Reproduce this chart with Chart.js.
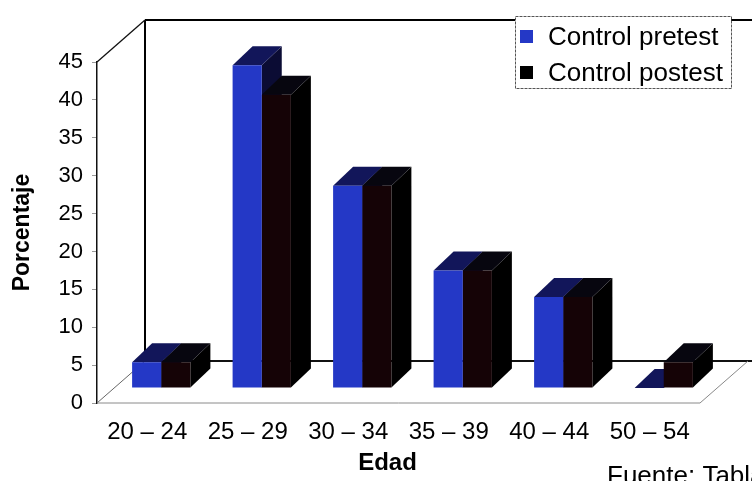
<!DOCTYPE html>
<html>
<head>
<meta charset="utf-8">
<script src="https://cdn.jsdelivr.net/npm/chart.js@4.4.1/dist/chart.umd.min.js"></script>
<style>
  html, body { margin: 0; padding: 0; background: #ffffff; }
  #wrap { width: 752px; height: 481px; }
</style>
</head>
<body>
<div id="wrap"><canvas id="c" width="752" height="481"></canvas></div>
<script>
// Age groups and percentages for the control group
const categories = ['20 – 24', '25 – 29', '30 – 34', '35 – 39', '40 – 44', '50 – 54'];
const pretest = [3.4, 42.6, 26.7, 15.5, 12.0, 0];
const postest = [3.4, 38.7, 26.7, 15.5, 12.0, 3.4];
const seriesNames = ['Control pretest', 'Control postest'];
const yMin = 0, yMax = 45, yStep = 5;
const xTitle = 'Edad';
const yTitle = 'Porcentaje';
const sourceNote = 'Fuente: Tabla 1';

// colours of each box: front, top, side, legend swatch
const faces = [
  { front: '#2438c6', top: '#12165a', side: '#0b0c34', swatch: '#2438c6' },
  { front: '#150306', top: '#07060f', side: '#000000', swatch: '#000000' }
];

// oblique projection used for the pseudo-3D look
const WALL = { x: 48, y: -42 };   // depth of floor / side wall
const STAND = { x: 14, y: -15 };  // where the boxes stand on the floor
const DEPTH = { x: 20, y: -19 };  // depth of each box

const FONT = "'Liberation Sans', Arial, sans-serif";

function seg(ctx, x1, y1, x2, y2, color, w) {
  ctx.beginPath();
  ctx.strokeStyle = color;
  ctx.lineWidth = w;
  ctx.moveTo(x1, y1);
  ctx.lineTo(x2, y2);
  ctx.stroke();
}

function poly(ctx, pts, color) {
  ctx.beginPath();
  ctx.moveTo(pts[0][0], pts[0][1]);
  for (let i = 1; i < pts.length; i++) ctx.lineTo(pts[i][0], pts[i][1]);
  ctx.closePath();
  ctx.fillStyle = color;
  ctx.fill();
}

const box3d = {
  id: 'box3d',
  beforeDatasetsDraw(chart) {
    const { ctx, chartArea: a, scales: { y } } = chart;
    const T = y.getPixelForValue(yMax), B = y.getPixelForValue(yMin);
    const L = a.left, R = a.right;
    ctx.save();
    // back wall, floor and side wall edges
    seg(ctx, L + WALL.x, T + WALL.y, L + WALL.x, B + WALL.y, '#000', 2);
    seg(ctx, L + WALL.x, T + WALL.y, chart.width, T + WALL.y, '#000', 2);
    seg(ctx, L + WALL.x, B + WALL.y, chart.width, B + WALL.y, '#111', 2);
    seg(ctx, L, T, L + WALL.x, T + WALL.y, '#111', 1.3);
    seg(ctx, L, B, L + WALL.x, B + WALL.y, '#666', 1);
    seg(ctx, R, B, R + WALL.x, B + WALL.y, '#888', 1);
    seg(ctx, L, B, R, B, '#8a8a8a', 1);

    // top and side faces of every box; the front faces follow from Chart.js
    ctx.translate(STAND.x, STAND.y);
    const metas = chart.data.datasets.map((d, i) => chart.getDatasetMeta(i));
    for (let k = 0; k < categories.length; k++) {
      metas.forEach((meta, i) => {
        const el = meta.data[k];
        const p = el.getProps(['x', 'y', 'base', 'width'], true);
        const l = p.x - p.width / 2, r = p.x + p.width / 2;
        const t = Math.min(p.y, p.base), b = p.base;
        const c = faces[i];
        poly(ctx, [[r, t], [r + DEPTH.x, t + DEPTH.y], [r + DEPTH.x, b + DEPTH.y], [r, b]], c.side);
        poly(ctx, [[l, t], [r, t], [r + DEPTH.x, t + DEPTH.y], [l + DEPTH.x, t + DEPTH.y]], c.top);
      });
    }
  },
  afterDatasetsDraw(chart) {
    chart.ctx.restore();
  },
  afterDraw(chart) {
    const ctx = chart.ctx;
    const x = chart.scales.x;
    ctx.save();
    // axis title under the categories
    ctx.fillStyle = '#000';
    ctx.font = 'bold 24px ' + FONT;
    ctx.textAlign = 'center';
    ctx.textBaseline = 'alphabetic';
    ctx.fillText(xTitle, (x.left + x.right) / 2 - 11, 470);
    // source note
    ctx.font = '26px ' + FONT;
    ctx.textAlign = 'left';
    ctx.fillText(sourceNote, 607, 484);

    // legend box
    ctx.fillStyle = '#fff';
    ctx.fillRect(515, 16, 216, 72);
    ctx.strokeStyle = '#555';
    ctx.lineWidth = 1;
    ctx.setLineDash([3, 1]);
    ctx.strokeRect(515.5, 16.5, 216, 72);
    ctx.setLineDash([]);
    ctx.font = '26px ' + FONT;
    ctx.textBaseline = 'middle';
    seriesNames.forEach((name, i) => {
      const cy = 37 + i * 36;
      ctx.fillStyle = faces[i].swatch;
      ctx.fillRect(520, cy - 7, 13, 13);
      ctx.fillStyle = '#000';
      ctx.fillText(name, 548, cy + 1);
    });
    ctx.restore();
  }
};

new Chart(document.getElementById('c'), {
  type: 'bar',
  data: {
    labels: categories,
    datasets: [
      { label: seriesNames[0], data: pretest, backgroundColor: faces[0].front, borderWidth: 0, clip: false },
      { label: seriesNames[1], data: postest, backgroundColor: faces[1].front, borderWidth: 0, clip: false }
    ]
  },
  options: {
    responsive: false,
    animation: false,
    devicePixelRatio: 1,
    layout: { padding: { left: 0, right: 52, top: 62, bottom: 0 } },
    datasets: { bar: { categoryPercentage: 0.58, barPercentage: 1.0 } },
    plugins: { legend: { display: false }, tooltip: { enabled: false } },
    scales: {
      x: {
        grid: { display: false, drawTicks: false },
        border: { display: false },
        ticks: { color: '#000', font: { family: FONT, size: 24 }, padding: 15, maxRotation: 0 },
        afterFit(s) { s.height = 78; }
      },
      y: {
        min: yMin,
        max: yMax,
        ticks: { stepSize: yStep, color: '#000', font: { family: FONT, size: 22 }, padding: 9 },
        grid: { display: true, drawOnChartArea: false, drawTicks: true, tickLength: 5, color: '#999' },
        border: { display: true, color: '#111', width: 1.5 },
        title: { display: true, text: yTitle, color: '#000', font: { family: FONT, size: 23, weight: 'bold' }, padding: { top: 9, bottom: 0 } },
        afterFit(s) { s.width = 97; }
      }
    }
  },
  plugins: [box3d]
});
</script>
</body>
</html>
